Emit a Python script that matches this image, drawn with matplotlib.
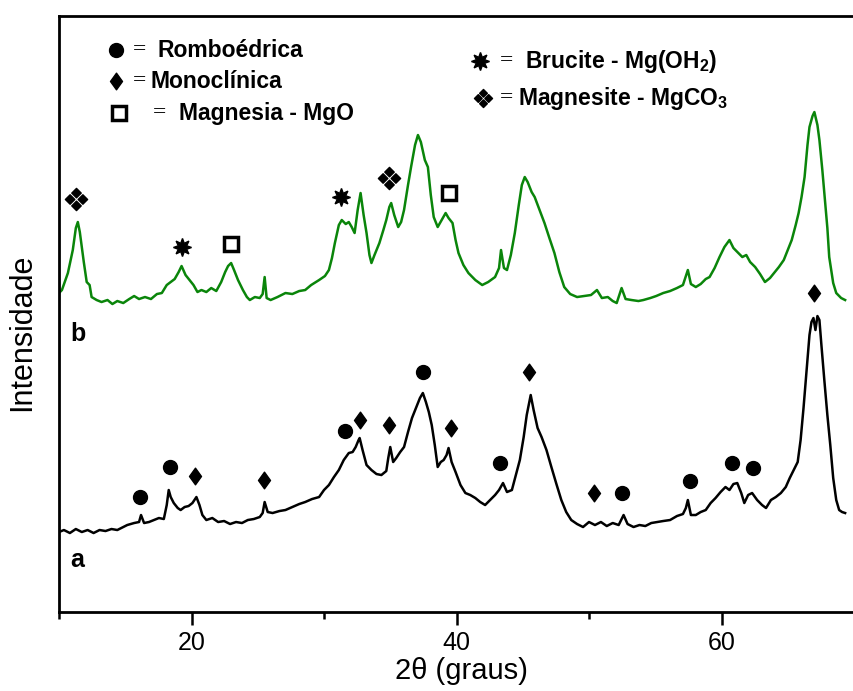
import matplotlib
matplotlib.use("Agg")
import matplotlib.pyplot as plt
from matplotlib.path import Path

plt.rcParams['font.family'] = ['Liberation Sans', 'DejaVu Sans']
plt.rcParams['mathtext.fontset'] = 'custom'
plt.rcParams['mathtext.rm'] = 'Liberation Sans:bold'
plt.rcParams['mathtext.bf'] = 'Liberation Sans:bold'
plt.rcParams['mathtext.default'] = 'rm'

# XRD pattern b (green), 2theta in degrees, intensity in arbitrary units
b_2theta = [10.0, 10.22, 10.67, 11.04, 11.27, 11.42, 11.57, 11.87, 12.09, 12.31,
            12.46, 12.84, 13.21, 13.66, 14.03, 14.40, 14.85, 15.30, 15.67, 16.04,
            16.49, 16.94, 17.39, 17.76, 18.13, 18.43, 18.73, 19.03, 19.25, 19.55,
            19.85, 20.15, 20.45, 20.75, 21.12, 21.49, 21.87, 22.24, 22.54, 22.76,
            22.99, 23.21, 23.51, 23.88, 24.18, 24.40, 24.78, 25.15, 25.37, 25.52,
            25.67, 25.97, 26.49, 27.09, 27.61, 28.13, 28.58, 29.03, 29.63, 30.07,
            30.37, 30.60, 30.82, 31.12, 31.34, 31.64, 31.87, 32.09, 32.31, 32.54,
            32.76, 32.99, 33.21, 33.43, 33.58, 33.81, 34.18, 34.48, 34.70, 34.93,
            35.07, 35.30, 35.60, 35.82, 36.04, 36.34, 36.57, 36.87, 37.09, 37.31,
            37.61, 37.84, 38.06, 38.28, 38.58, 38.88, 39.18, 39.40, 39.70, 39.93,
            40.15, 40.52, 40.90, 41.42, 41.94, 42.39, 42.91, 43.21, 43.36, 43.58,
            43.81, 44.10, 44.40, 44.70, 44.93, 45.15, 45.37, 45.67, 45.90, 46.27,
            46.64, 47.01, 47.39, 47.76, 48.13, 48.58, 49.10, 49.63, 50.15, 50.60,
            50.97, 51.42, 51.79, 52.09, 52.46, 52.76, 53.21, 53.73, 54.10, 54.63,
            55.07, 55.60, 56.12, 56.64, 57.09, 57.46, 57.69, 58.06, 58.43, 58.81,
            59.10, 59.48, 59.85, 60.22, 60.60, 60.90, 61.27, 61.57, 61.87, 62.16,
            62.54, 62.91, 63.28, 63.66, 64.03, 64.33, 64.70, 65.00, 65.30, 65.60,
            65.82, 66.04, 66.27, 66.49, 66.64, 66.87, 67.01, 67.24, 67.39, 67.61,
            67.76, 67.99, 68.13, 68.43, 68.66, 69.03, 69.33]
b_int = [319, 322, 339, 362, 384, 390, 380, 350, 330, 327,
         315, 312, 310, 312, 308, 311, 309, 313, 316, 313,
         315, 313, 318, 319, 327, 330, 333, 340, 346, 337,
         332, 327, 320, 322, 320, 324, 321, 330, 340, 346,
         349, 342, 332, 322, 315, 312, 315, 314, 318, 335,
         314, 312, 315, 319, 318, 321, 322, 327, 332, 336,
         342, 354, 369, 387, 392, 388, 390, 385, 379, 402,
         419, 397, 379, 357, 349, 357, 369, 382, 392, 405,
         409, 397, 385, 390, 402, 427, 445, 467, 477, 470,
         452, 445, 417, 395, 385, 392, 399, 394, 389, 372,
         359, 347, 339, 332, 327, 330, 335, 344, 362, 344,
         342, 357, 379, 407, 427, 435, 430, 420, 415, 402,
         389, 374, 359, 340, 325, 318, 315, 316, 317, 322,
         314, 315, 311, 309, 324, 313, 312, 311, 312, 314,
         316, 319, 321, 324, 327, 342, 328, 325, 328, 333,
         335, 344, 355, 365, 372, 364, 359, 355, 357, 350,
         345, 338, 330, 334, 340, 345, 352, 362, 372, 387,
         399, 415, 435, 467, 485, 496, 500, 487, 472, 442,
         419, 384, 355, 329, 319, 314, 312]

# XRD pattern a (black)
a_2theta = [10.0, 10.37, 10.82, 11.27, 11.72, 12.16, 12.61, 13.06, 13.51, 13.96,
            14.40, 14.70, 15.15, 15.67, 16.04, 16.19, 16.42, 16.79, 17.16, 17.54,
            17.91, 18.13, 18.28, 18.43, 18.66, 18.96, 19.18, 19.48, 19.78, 20.07,
            20.37, 20.60, 20.82, 21.12, 21.57, 22.01, 22.46, 22.91, 23.36, 23.81,
            24.25, 24.70, 25.15, 25.37, 25.52, 25.75, 26.12, 26.64, 27.09, 27.61,
            28.13, 28.58, 29.10, 29.63, 30.00, 30.37, 30.75, 31.12, 31.49, 31.87,
            32.16, 32.39, 32.61, 32.69, 32.91, 33.21, 33.58, 33.96, 34.33, 34.70,
            34.85, 35.00, 35.22, 35.45, 35.75, 36.04, 36.34, 36.64, 36.94, 37.24,
            37.46, 37.69, 37.91, 38.13, 38.36, 38.58, 38.81, 39.03, 39.25, 39.40,
            39.63, 39.93, 40.30, 40.67, 41.04, 41.42, 41.79, 42.16, 42.54, 42.91,
            43.21, 43.51, 43.81, 44.18, 44.48, 44.78, 45.07, 45.30, 45.52, 45.60,
            45.82, 46.12, 46.42, 46.79, 47.16, 47.54, 47.91, 48.28, 48.66, 49.10,
            49.55, 50.00, 50.45, 50.90, 51.34, 51.79, 52.24, 52.61, 52.91, 53.36,
            53.81, 54.25, 54.70, 55.15, 55.60, 56.12, 56.64, 57.09, 57.31, 57.46,
            57.69, 58.06, 58.43, 58.81, 59.18, 59.55, 59.93, 60.30, 60.60, 60.90,
            61.19, 61.49, 61.72, 62.01, 62.31, 62.69, 63.06, 63.36, 63.73, 64.10,
            64.48, 64.85, 65.15, 65.45, 65.75, 65.97, 66.19, 66.42, 66.64, 66.79,
            66.94, 67.09, 67.24, 67.39, 67.54, 67.76, 67.99, 68.21, 68.43, 68.66,
            68.88, 69.10, 69.33]
a_int = [80, 82, 79, 83, 80, 82, 79, 82, 81, 83,
         82, 84, 87, 89, 90, 97, 89, 90, 92, 94,
         93, 107, 122, 115, 109, 104, 102, 105, 106, 109,
         115, 107, 97, 92, 94, 90, 91, 88, 90, 89,
         92, 93, 95, 99, 110, 100, 99, 101, 102, 105,
         108, 110, 113, 115, 122, 127, 135, 142, 152, 159,
         160, 165, 172, 174, 162, 147, 142, 138, 137, 141,
         154, 165, 150, 154, 160, 165, 180, 194, 204, 214,
         219, 210, 200, 187, 167, 145, 150, 152, 157, 164,
         150, 140, 127, 119, 117, 114, 110, 107, 112, 117,
         122, 129, 120, 122, 137, 152, 175, 197, 212, 217,
         202, 184, 175, 162, 145, 128, 112, 100, 92, 88,
         85, 90, 87, 90, 86, 89, 87, 97, 88, 85,
         87, 86, 89, 90, 91, 92, 96, 98, 104, 112,
         97, 97, 100, 102, 109, 114, 120, 125, 122, 128,
         129, 119, 109, 117, 119, 112, 107, 104, 112, 115,
         119, 125, 134, 142, 150, 172, 204, 242, 277, 290,
         294, 282, 296, 292, 267, 232, 197, 167, 134, 112,
         102, 100, 99]

# phase markers
rombo_x = [16.1, 18.4, 31.6, 37.5, 43.3, 52.5, 57.6, 60.8, 62.4]
rombo_y = [115, 145, 181, 240, 149, 119, 131, 149, 144]
mono_x = [20.3, 25.5, 32.7, 34.9, 39.6, 45.5, 50.4, 67.0]
mono_y = [136, 132, 192, 187, 184, 240, 119, 319]
magnesite_x = [11.3, 34.9]
magnesite_y = [413, 434]
brucite_x = [19.3, 31.3]
brucite_y = [365, 415]
mgo_x = [23.0, 39.4]
mgo_y = [368, 419]


def clover_marker(r=0.37):
    verts, codes = [], []
    for cx, cy in [(0, 0.5), (0.5, 0), (0, -0.5), (-0.5, 0)]:
        verts += [(cx, cy + r), (cx + r, cy), (cx, cy - r), (cx - r, cy), (cx, cy + r)]
        codes += [Path.MOVETO, Path.LINETO, Path.LINETO, Path.LINETO, Path.CLOSEPOLY]
    return Path(verts, codes)


clover = clover_marker()
diamond = Path([(0, 1), (0.72, 0), (0, -1), (-0.72, 0), (0, 1)],
               [Path.MOVETO, Path.LINETO, Path.LINETO, Path.LINETO, Path.CLOSEPOLY])
star = (8, 1, 0)

fig = plt.figure(figsize=(8.54, 6.91), dpi=100)
ax = fig.add_axes([0.0691, 0.1143, 0.9309, 0.8625])

ax.plot(b_2theta, b_int, color='#0a850a', lw=1.8)
ax.plot(a_2theta, a_int, color='black', lw=1.8)

mk = dict(ls='none', color='black')
ax.plot(rombo_x, rombo_y, marker='o', ms=10, **mk)
ax.plot(mono_x, mono_y, marker=diamond, ms=12, **mk)
ax.plot(magnesite_x, magnesite_y, marker=clover, ms=16, **mk)
ax.plot(brucite_x, brucite_y, marker=star, ms=13, **mk)
ax.plot(mgo_x, mgo_y, marker='s', ms=10, mfc='white', mec='black', mew=2.5, ls='none')

# legend block
lab = dict(fontsize=16.5, fontweight='bold', va='center', ha='left')
eq = dict(fontsize=17, family='Liberation Serif', va='center', ha='center')
ax.plot([14.33], [562], marker='o', ms=10, **mk)
ax.text(16.1, 562, '=', **eq)
ax.text(17.46, 562, 'Romboédrica', **lab)
ax.plot([14.33], [531], marker=diamond, ms=12, **mk)
ax.text(16.1, 531, '=', **eq)
ax.text(16.94, 531, 'Monoclínica', **lab)
ax.plot([14.55], [499], marker='s', ms=10, mfc='white', mec='black', mew=2.5, ls='none')
ax.text(17.6, 499, '=', **eq)
ax.text(19.03, 499, 'Magnesia - MgO', **lab)

ax.plot([41.79], [551], marker=star, ms=13, **mk)
ax.text(43.8, 551, '=', **eq)
ax.text(45.15, 551, 'Brucite - Mg(OH$_2$)', **lab)
ax.plot([42.0], [514], marker=clover, ms=13, **mk)
ax.text(43.8, 514, '=', **eq)
ax.text(44.63, 514, 'Magnesite - MgCO$_3$', **lab)

ax.text(11.42, 278, 'b', fontsize=18, fontweight='bold', ha='center', va='center')
ax.text(11.34, 52, 'a', fontsize=18, fontweight='bold', ha='center', va='center')

ax.set_xlim(10, 69.33)
ax.set_ylim(0, 596)
ax.set_xticks([20, 40, 60])
ax.set_xticks([10, 30, 50, 70], minor=True)
ax.set_yticks([])
ax.tick_params(axis='x', which='major', direction='out', length=9.5, width=1.8,
               labelsize=18, pad=4)
ax.tick_params(axis='x', which='minor', direction='out', length=5, width=1.8)
ax.spines['right'].set_visible(False)
for s in ['left', 'top', 'bottom']:
    ax.spines[s].set_linewidth(2.0)

ax.set_xlabel('2θ (graus)', fontsize=21)
ax.set_ylabel('Intensidade', fontsize=22)
ax.xaxis.set_label_coords(0.506, -0.075)
ax.yaxis.set_label_coords(-0.027, 0.47)

fig.savefig('out.png', dpi=100)
